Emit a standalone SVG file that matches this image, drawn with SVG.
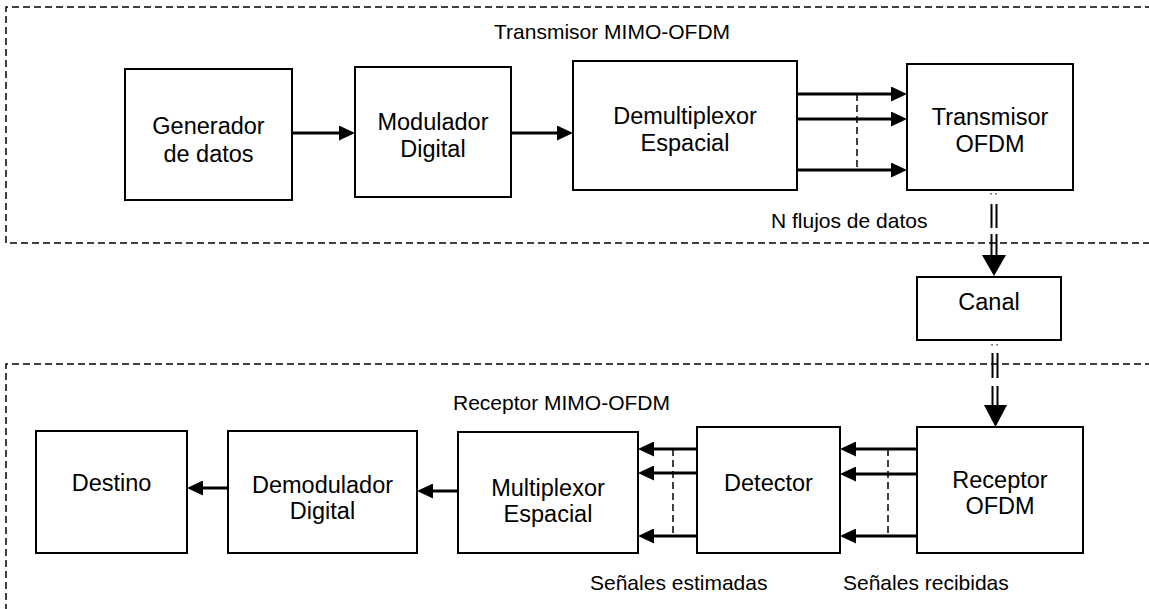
<svg xmlns="http://www.w3.org/2000/svg" width="1149" height="609" viewBox="0 0 1149 609">
  <style>
    .box { fill: #fff; stroke: #000; stroke-width: 2; }
    .frame { fill: none; stroke: #000; stroke-width: 1.5; stroke-dasharray: 7 4; }
    .link { fill: none; stroke: #000; stroke-width: 3; marker-end: url(#head); }
    .bus { fill: none; stroke: #000; stroke-width: 1.5; stroke-dasharray: 7 4; }
    .dbl { fill: none; stroke: #000; stroke-width: 2; }
    .tick { fill: #777; }
    .big { fill: #000; }
    .node { font-family: "Liberation Sans", Arial, sans-serif; font-size: 23.5px; fill: #000; text-anchor: middle; }
    .label { font-family: "Liberation Sans", Arial, sans-serif; font-size: 21px; fill: #000; }
  </style>
  <defs>
    <marker id="head" markerUnits="userSpaceOnUse" markerWidth="16" markerHeight="15" refX="4" refY="7.5" orient="auto">
      <path d="M0,0 L16,7.5 L0,15 z" fill="#000"/>
    </marker>
  </defs>

  <rect width="1149" height="609" fill="#fff"/>

  <!-- transmitter and receiver frames (open on the right) -->
  <g id="frames">
    <path class="frame" d="M1152,7 H6 V243 H1152"/>
    <path class="frame" d="M1152,364 H6 V612"/>
    <text class="label" x="494" y="39">Transmisor MIMO-OFDM</text>
    <text class="label" x="453" y="410">Receptor MIMO-OFDM</text>
  </g>

  <!-- connectors -->
  <g id="connectors">
    <path class="link" d="M292,133 H343"/>
    <path class="link" d="M511,133 H561"/>

    <path class="link" d="M797,94 H895"/>
    <path class="link" d="M797,119 H895"/>
    <path class="link" d="M797,170 H895"/>
    <path class="bus" d="M857,94 V170"/>

    <path class="link" d="M917,449 H852"/>
    <path class="link" d="M917,474 H852"/>
    <path class="link" d="M917,536 H852"/>
    <path class="bus" d="M888,449 V536"/>

    <path class="link" d="M697,449 H650"/>
    <path class="link" d="M697,473 H650"/>
    <path class="link" d="M697,536 H650"/>
    <path class="bus" d="M673,449 V536"/>

    <path class="link" d="M458,491 H429"/>
    <path class="link" d="M228,488 H199"/>

    <!-- transmitter to channel -->
    <rect class="tick" x="990" y="193" width="2" height="1.5"/>
    <rect class="tick" x="995" y="193" width="2" height="1.5"/>
    <path class="dbl" d="M991.5,204 V228 M996.5,204 V228 M991.5,234 V257 M996.5,234 V257"/>
    <polygon class="big" points="982,255 1006,255 994,276"/>

    <!-- channel to receiver -->
    <rect class="tick" x="991" y="344" width="2" height="1.5"/>
    <rect class="tick" x="996" y="344" width="2" height="1.5"/>
    <path class="dbl" d="M992.5,353 V378 M997.5,353 V378 M992.5,386 V407 M997.5,386 V407"/>
    <polygon class="big" points="984,405 1007,405 995.5,427"/>
  </g>

  <g id="generador">
    <rect class="box" x="125" y="69" width="167" height="131"/>
    <text class="node" x="208.5" y="134">Generador</text>
    <text class="node" x="208.5" y="162">de datos</text>
  </g>

  <g id="modulador">
    <rect class="box" x="355" y="67" width="156" height="130"/>
    <text class="node" x="433" y="130">Modulador</text>
    <text class="node" x="433" y="157">Digital</text>
  </g>

  <g id="demultiplexor">
    <rect class="box" x="573" y="61" width="224" height="129"/>
    <text class="node" x="685" y="124">Demultiplexor</text>
    <text class="node" x="685" y="151">Espacial</text>
  </g>

  <g id="transmisor-ofdm">
    <rect class="box" x="907" y="64" width="166" height="126"/>
    <text class="node" x="990" y="125">Transmisor</text>
    <text class="node" x="990" y="152">OFDM</text>
  </g>

  <text id="n-flujos" class="label" x="771" y="228">N flujos de datos</text>

  <g id="canal">
    <rect class="box" x="917" y="277" width="144" height="63"/>
    <text class="node" x="989" y="310">Canal</text>
  </g>

  <g id="receptor-ofdm">
    <rect class="box" x="917" y="427" width="166" height="126"/>
    <text class="node" x="1000" y="488">Receptor</text>
    <text class="node" x="1000" y="514">OFDM</text>
  </g>

  <g id="detector">
    <rect class="box" x="697" y="427" width="143" height="126"/>
    <text class="node" x="768.5" y="491">Detector</text>
  </g>

  <g id="multiplexor">
    <rect class="box" x="458" y="432" width="180" height="121"/>
    <text class="node" x="548" y="496">Multiplexor</text>
    <text class="node" x="548" y="522">Espacial</text>
  </g>

  <g id="demodulador">
    <rect class="box" x="228" y="431" width="189" height="122"/>
    <text class="node" x="322.5" y="493">Demodulador</text>
    <text class="node" x="322.5" y="519">Digital</text>
  </g>

  <g id="destino">
    <rect class="box" x="36" y="431" width="151" height="122"/>
    <text class="node" x="111.5" y="491">Destino</text>
  </g>

  <text id="senales-estimadas" class="label" x="590" y="590">Señales estimadas</text>
  <text id="senales-recibidas" class="label" x="843" y="590">Señales recibidas</text>
</svg>
